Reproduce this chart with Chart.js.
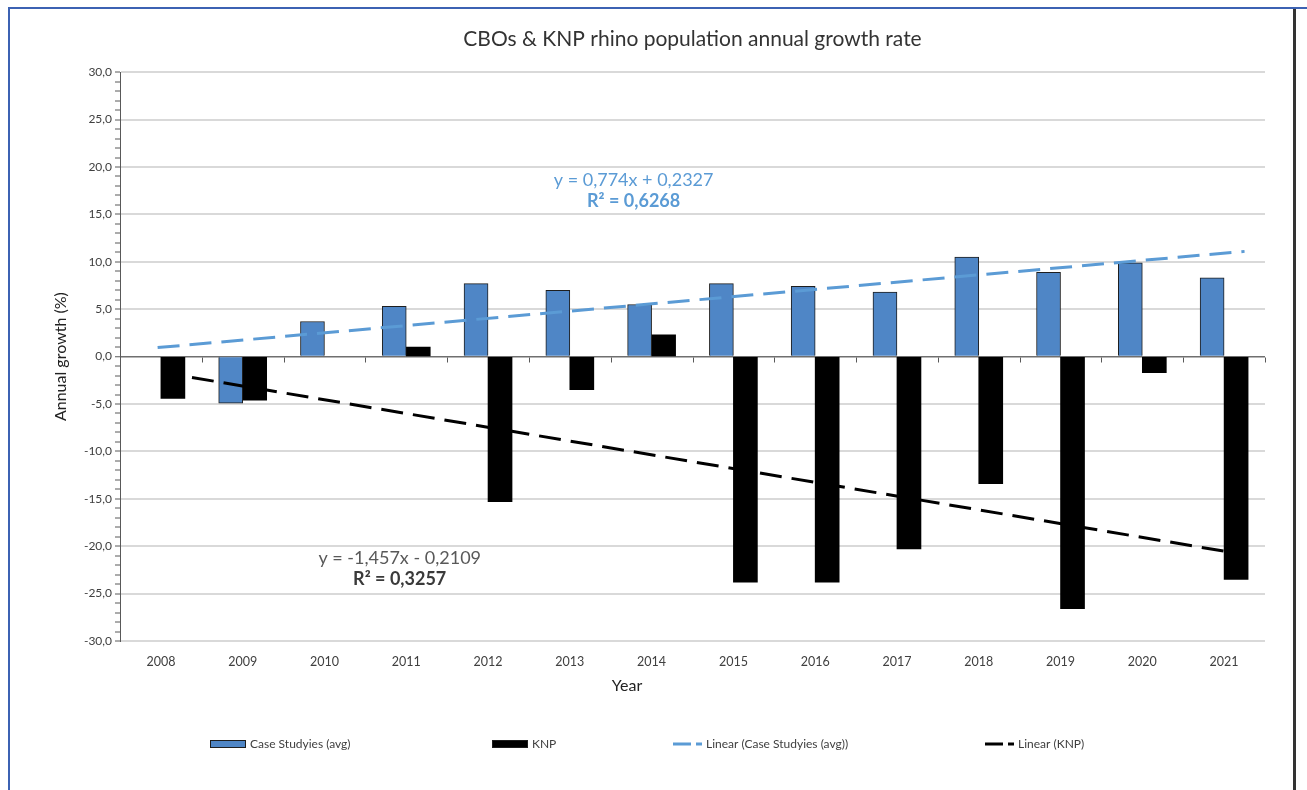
<!DOCTYPE html>
<html>
<head>
<meta charset="utf-8">
<script src="https://cdn.jsdelivr.net/npm/chart.js@4.4.1/dist/chart.umd.min.js"></script>
<style>
  html, body { margin: 0; padding: 0; background: #fff; }
  #wrap { position: relative; width: 1307px; height: 790px; overflow: hidden; }
  #topLine { position: absolute; left: 8px; top: 7px; width: 1299px; height: 2px; background: #3c62b3; }
  #leftLine { position: absolute; left: 8px; top: 7px; width: 2px; height: 783px; background: #3c62b3; }
  #rightLine { position: absolute; left: 1293px; top: 9px; width: 3px; height: 781px; background: #333; }
  canvas { position: absolute; left: 0; top: 0; }
</style>
</head>
<body>
<div id="wrap">
  <canvas id="growthChart" width="1307" height="790"></canvas>
  <div id="topLine"></div>
  <div id="leftLine"></div>
  <div id="rightLine"></div>
</div>
<script>
const years = ["2008", "2009", "2010", "2011", "2012", "2013", "2014", "2015", "2016", "2017", "2018", "2019", "2020", "2021"];
const caseStudies = [null, -4.9, 3.7, 5.3, 7.7, 7.0, 5.5, 7.7, 7.4, 6.8, 10.5, 8.9, 9.9, 8.3];
const knp = [-4.4, -4.6, null, 1.0, -15.3, -3.5, 2.3, -23.8, -23.8, -20.3, -13.4, -26.6, -1.7, -23.5];

// trendlines (x = category number, 1 = 2008)
const trendCaseX = [0.96, 14.25];
const trendCaseY = [0.95, 11.1];
const trendKnpX = [1.38, 14.19];
const trendKnpY = [-2.2, -20.8];

const caseEq = ["y = 0,774x + 0,2327", "R\u00b2 = 0,6268"];
const knpEq = ["y = -1,457x - 0,2109", "R\u00b2 = 0,3257"];

const FONT = "Lato, 'Open Sans', sans-serif";
const BLUE = "#4f86c6";
const TREND_BLUE = "#5b9bd5";

// small helper plugin: zero line ticks, equations, "Year" label and legend
const extras = {
  id: "extras",
  afterDraw(chart) {
    const ctx = chart.ctx;
    const x = chart.scales.x;
    const y = chart.scales.y;

    // category tick marks on the zero line
    ctx.save();
    ctx.strokeStyle = "#595959";
    ctx.lineWidth = 1;
    const y0 = Math.round(y.getPixelForValue(0)) + 0.5;
    for (let i = 1; i <= years.length; i++) {
      const px = Math.round(x.getPixelForValue(i + 0.5)) + 0.5;
      ctx.beginPath();
      ctx.moveTo(px, y0);
      ctx.lineTo(px, y0 + 5);
      ctx.stroke();
    }
    ctx.restore();

    // trendline equations
    ctx.save();
    ctx.textAlign = "center";
    ctx.textBaseline = "middle";
    ctx.fillStyle = TREND_BLUE;
    ctx.font = "18px " + FONT;
    ctx.fillText(caseEq[0], x.getPixelForValue(6.78), y.getPixelForValue(18.6));
    ctx.font = "bold 18px " + FONT;
    ctx.fillText(caseEq[1], x.getPixelForValue(6.78), y.getPixelForValue(16.4));
    ctx.fillStyle = "#595959";
    ctx.font = "18px " + FONT;
    ctx.fillText(knpEq[0], x.getPixelForValue(3.92), y.getPixelForValue(-21.3));
    ctx.fillStyle = "#3a3a3a";
    ctx.font = "bold 18px " + FONT;
    ctx.fillText(knpEq[1], x.getPixelForValue(3.92), y.getPixelForValue(-23.5));

    // x axis title
    ctx.fillStyle = "#222";
    ctx.font = "16px " + FONT;
    ctx.fillText("Year", x.getPixelForValue(6.7), 686);
    ctx.restore();

    // legend
    const legendX = [210, 492, 673, 985];
    const ly = 744;
    ctx.save();
    ctx.font = "12px " + FONT;
    ctx.textBaseline = "middle";
    ctx.textAlign = "left";
    chart.data.datasets.forEach((ds, i) => {
      const lx = legendX[i];
      let tx;
      if (ds.type === "line") {
        ctx.strokeStyle = ds.borderColor;
        ctx.lineWidth = 3;
        ctx.setLineDash([18, 5, 6, 50]);
        ctx.beginPath();
        ctx.moveTo(lx, ly);
        ctx.lineTo(lx + 29, ly);
        ctx.stroke();
        ctx.setLineDash([]);
        tx = lx + 33;
      } else {
        ctx.fillStyle = ds.backgroundColor;
        ctx.fillRect(lx, ly - 4, 36, 8);
        ctx.strokeStyle = "#1e1e1e";
        ctx.lineWidth = 1;
        ctx.strokeRect(lx + 0.5, ly - 3.5, 35, 7);
        tx = lx + 40;
      }
      ctx.fillStyle = "#404040";
      ctx.fillText(ds.label, tx, ly);
    });
    ctx.restore();
  }
};

const ctx = document.getElementById("growthChart").getContext("2d");
const chart = new Chart(ctx, {
  data: {
    datasets: [
      {
        type: "bar",
        label: "Case Studyies (avg)",
        data: caseStudies.map((v, i) => ({ x: i + 1, y: v })),
        backgroundColor: BLUE,
        borderColor: "#1e1e1e",
        borderWidth: 1,
        barThickness: 24,
        order: 2
      },
      {
        type: "bar",
        label: "KNP",
        data: knp.map((v, i) => ({ x: i + 1, y: v })),
        backgroundColor: "#000000",
        borderColor: "#000000",
        borderWidth: 0,
        barThickness: 24,
        order: 2
      },
      {
        type: "line",
        label: "Linear (Case Studyies (avg))",
        data: trendCaseX.map((v, i) => ({ x: v, y: trendCaseY[i] })),
        borderColor: TREND_BLUE,
        borderWidth: 3,
        borderDash: [22, 10],
        pointRadius: 0,
        fill: false,
        order: 0
      },
      {
        type: "line",
        label: "Linear (KNP)",
        data: trendKnpX.map((v, i) => ({ x: v, y: trendKnpY[i] })),
        borderColor: "#000000",
        borderWidth: 3,
        borderDash: [22, 10],
        pointRadius: 0,
        fill: false,
        order: 0
      }
    ]
  },
  options: {
    responsive: false,
    animation: false,
    layout: { padding: { left: 10, right: 42, top: 0, bottom: 108 } },
    plugins: {
      legend: { display: false },
      tooltip: { enabled: false },
      title: {
        display: true,
        fullSize: false,
        text: "CBOs & KNP rhino population annual growth rate",
        color: "#333",
        font: { family: FONT, size: 21, weight: "normal" },
        padding: { top: 27, bottom: 20 }
      }
    },
    scales: {
      x: {
        type: "linear",
        min: 0.5,
        max: 14.5,
        offset: false,
        afterBuildTicks(scale) { scale.ticks = years.map((yr, i) => ({ value: i + 1 })); },
        grid: { display: false, drawTicks: false },
        border: { display: false },
        ticks: {
          autoSkip: false,
          color: "#404040",
          font: { family: FONT, size: 12.5 },
          padding: 13,
          maxRotation: 0,
          callback: v => years[Math.round(v) - 1] || ""
        }
      },
      y: {
        min: -30,
        max: 30,
        afterFit(scale) { scale.width = 110; },
        border: { display: true, color: "#595959", width: 1 },
        grid: {
          color: c => c.tick.value === 0 ? "#6f6f6f" : (c.tick.value % 5 === 0 ? "#d9d9d9" : "rgba(0,0,0,0)"),
          lineWidth: c => c.tick.value === 0 ? 1.5 : 2,
          tickColor: "#595959",
          tickLength: 5,
          tickWidth: 1
        },
        ticks: {
          stepSize: 1,
          autoSkip: false,
          color: "#404040",
          font: { family: FONT, size: 12 },
          padding: 3,
          callback: v => v % 5 === 0 ? v.toFixed(1).replace(".", ",") : ""
        },
        title: {
          display: true,
          text: "Annual growth (%)",
          color: "#222",
          font: { family: FONT, size: 16 },
          padding: { top: 41, bottom: 0 }
        }
      }
    }
  },
  plugins: [extras]
});
</script>
</body>
</html>
